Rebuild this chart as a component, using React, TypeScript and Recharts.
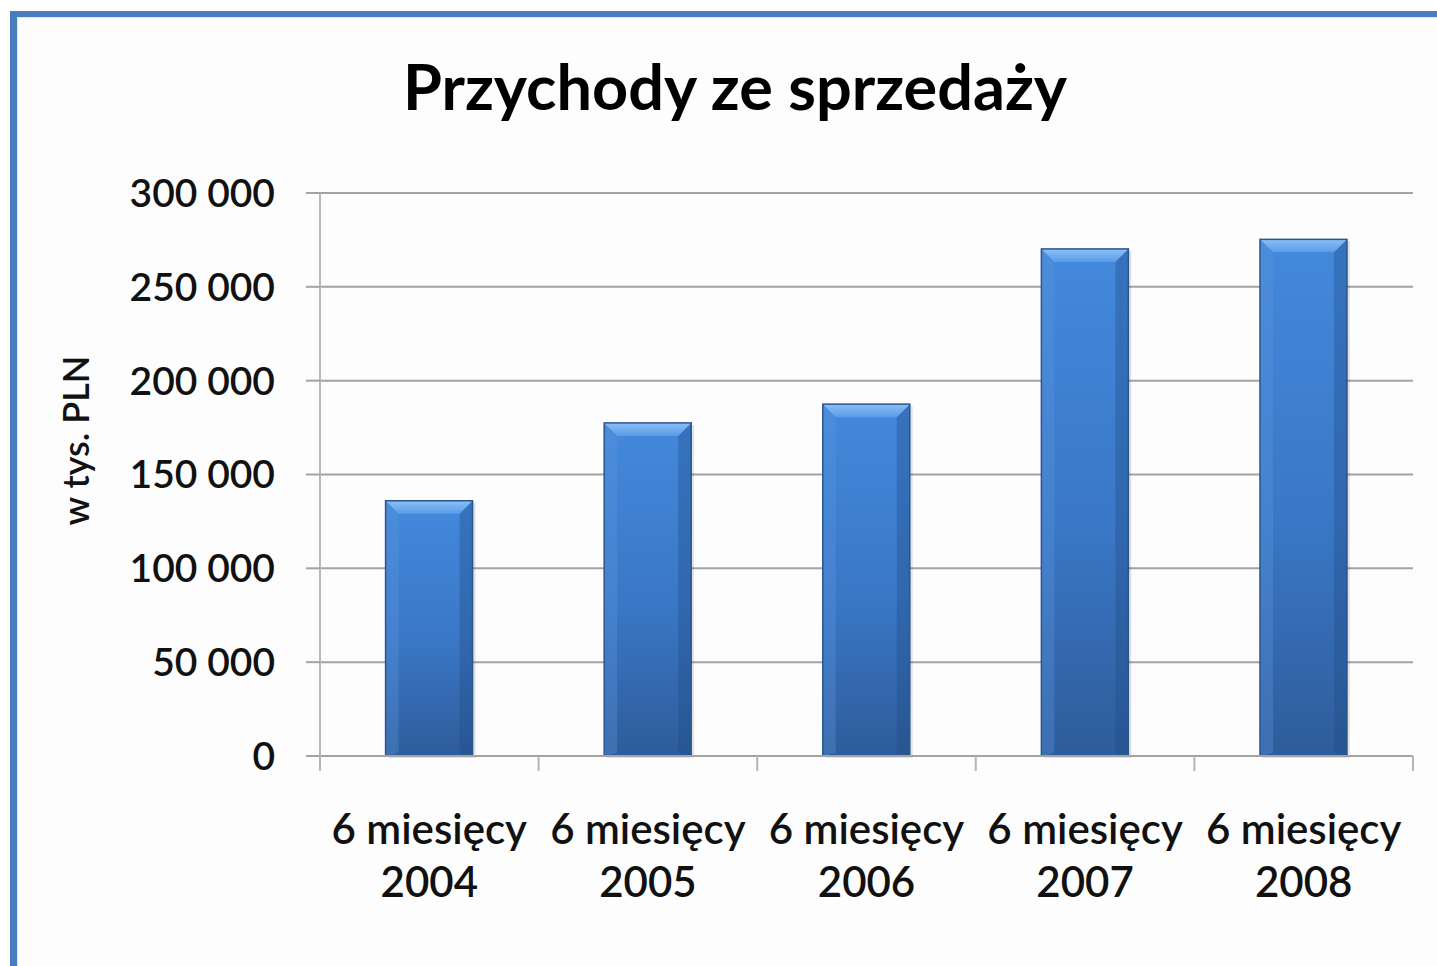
import { BarChart, Bar, XAxis, YAxis, CartesianGrid } from "recharts"

// dane
const periods = ["6 miesięcy", "6 miesięcy", "6 miesięcy", "6 miesięcy", "6 miesięcy"]
const years = ["2004", "2005", "2006", "2007", "2008"]
const revenue = [136000, 177500, 187500, 270200, 275300]
const yTicks = [0, 50000, 100000, 150000, 200000, 250000, 300000]

const data = years.map((year, i) => ({
  name: year,
  period: periods[i],
  value: revenue[i],
}))

const FONT = "Lato, 'Open Sans', sans-serif"

const fmt = (v: number) =>
  v === 0 ? "0" : String(v).replace(/\B(?=(\d{3})+(?!\d))/g, " ")

function BevelBar(props: any) {
  const { x, y, width, height } = props
  if (!height || height <= 0) return null
  const b = 13
  return (
    <g>
      <rect x={x + 3} y={y + 2} width={width} height={height} fill="#000" opacity={0.1} />
      <rect x={x} y={y} width={width} height={height} fill="url(#barGrad)" />
      <polygon
        points={`${x},${y} ${x + b},${y + b} ${x + b},${y + height - 3} ${x},${y + height}`}
        fill="#5b95dd"
        opacity={0.35}
      />
      <polygon
        points={`${x + width},${y} ${x + width - b},${y + b} ${x + width - b},${y + height - 3} ${x + width},${y + height}`}
        fill="#1f4a80"
        opacity={0.35}
      />
      <polygon
        points={`${x},${y} ${x + width},${y} ${x + width - b},${y + b} ${x + b},${y + b}`}
        fill="url(#bevelTop)"
      />
      <rect x={x} y={y} width={width} height={height} fill="none" stroke="#2b558f" strokeWidth={1.5} />
    </g>
  )
}

function CategoryTick(props: any) {
  const { x, y, payload, index } = props
  const half = payload?.offset ?? 109.3
  const d = data[index] || data.find((r) => r.name === payload.value)
  return (
    <g>
      <line x1={x - half} y1={y} x2={x - half} y2={y + 15} stroke="#b5b5b5" strokeWidth={2} />
      {index === years.length - 1 && (
        <line x1={x + half} y1={y} x2={x + half} y2={y + 15} stroke="#b5b5b5" strokeWidth={2} />
      )}
      <text textAnchor="middle" fontFamily={FONT} fontSize={42} fontWeight={600} fill="#111">
        <tspan x={x} y={y + 88}>{d?.period}</tspan>
        <tspan x={x} y={y + 141}>{payload.value}</tspan>
      </text>
    </g>
  )
}

export default function App() {
  return (
    <div
      style={{
        position: "absolute",
        left: 0,
        top: 0,
        width: 1437,
        height: 966,
        overflow: "hidden",
        background: "#fff",
      }}
    >
      <div
        style={{
          position: "absolute",
          left: 10,
          top: 11,
          width: 1500,
          height: 1000,
          borderLeft: "7px solid #4a7dbd",
          borderTop: "6px solid #4a7dbd",
          background: "#fdfdfd",
          boxShadow: "inset 1px 1px 0 #dce7f3",
        }}
      />
      <div
        style={{
          position: "absolute",
          left: 0,
          width: 1470,
          top: 48,
          textAlign: "center",
          fontFamily: FONT,
          fontSize: 63,
          fontWeight: 700,
          color: "#000",
        }}
      >
        Przychody ze sprzedaży
      </div>
      <div style={{ position: "absolute", left: 0, top: 0 }}>
        <BarChart
          width={1437}
          height={966}
          data={data}
          margin={{ top: 193, right: 24, bottom: 0, left: 0 }}
          barCategoryGap="30%"
        >
          <defs>
            <linearGradient id="barGrad" x1="0" y1="0" x2="0" y2="1">
              <stop offset="0%" stopColor="#4389dc" />
              <stop offset="55%" stopColor="#3a77c6" />
              <stop offset="100%" stopColor="#2e5c9a" />
            </linearGradient>
            <linearGradient id="bevelTop" x1="0" y1="0" x2="0" y2="1">
              <stop offset="0%" stopColor="#8cc0f7" />
              <stop offset="100%" stopColor="#5a9be6" />
            </linearGradient>
          </defs>
          <CartesianGrid vertical={false} stroke="#a3a3a3" strokeWidth={2} />
          <XAxis
            dataKey="name"
            tick={<CategoryTick />}
            tickLine={false}
            tickSize={0}
            tickMargin={0}
            axisLine={{ stroke: "#a3a3a3", strokeWidth: 2 }}
            interval={0}
            height={210}
          />
          <YAxis
            width={320}
            domain={[0, 300000]}
            ticks={yTicks}
            tickFormatter={fmt}
            tickSize={14}
            tickMargin={31}
            axisLine={{ stroke: "#b8b8b8", strokeWidth: 2 }}
            tickLine={{ stroke: "#a3a3a3", strokeWidth: 2 }}
            tick={{ fontFamily: FONT, fontSize: 39, fontWeight: 600, fill: "#111" }}
            label={{
              value: "w tys. PLN",
              angle: -90,
              position: "insideLeft",
              offset: 76,
              dy: -34,
              style: { fontFamily: FONT, fontSize: 36, fontWeight: 600, fill: "#111", textAnchor: "middle" },
            }}
          />
          <Bar dataKey="value" shape={<BevelBar />} isAnimationActive={false} />
        </BarChart>
      </div>
    </div>
  )
}
